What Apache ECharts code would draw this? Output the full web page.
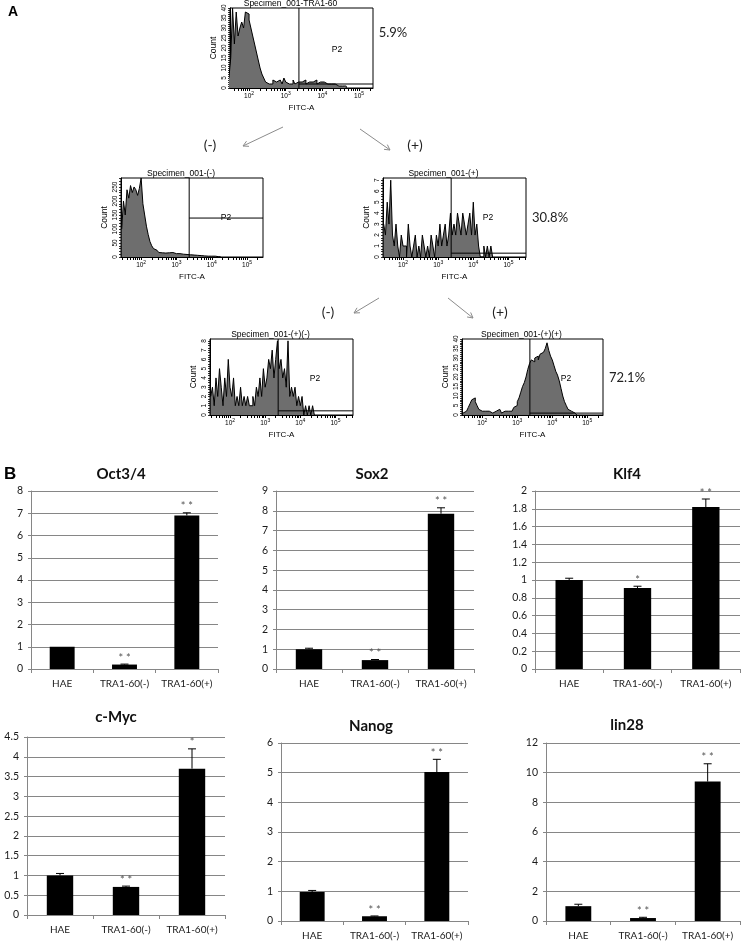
<!DOCTYPE html>
<html><head><meta charset="utf-8">
<script src="https://cdn.jsdelivr.net/npm/echarts@6/dist/echarts.min.js"></script>
<style>html,body{margin:0;padding:0;background:#fff}#c{width:741px;height:943px}</style>
</head><body><div id="c"></div>
<script>
// ================= DATA =================
// Flow histograms: counts per bin, bins start at log10(FITC-A)=binStart, width binStep
const binStart = 1.45;
const binStep = 0.05;
const histTRA160 = [5,15,40,22,38,26,30,33,30,38,37,34,30,26,22,18,14,10,7,5,3,2,3,2,4,3,2,4,3,2,5,3,2,3,2,4,2,3,2,3,2,4,2,3,2,3,2,4,2,3,2,3,2,2,1,2,1,2,1,1,1,1,0,1,0];
const histNeg = [100,200,150,240,210,255,230,250,240,220,245,282,190,150,110,80,55,40,30,24,19,16,15,17,14,18,15,13,16,14,12,15,12,13,10,11,9,10,8,8,7,7,6,6,5,5,4,4,3,4,3,2,3,2,1,1,0];
const histPos = [3,2,5,3,7,2,1,3,1,0,2,1,1,0,3,1,0,1,2,0,1,0,2,1,0,1,0,2,1,0,2,1,3,1,2,3,1,2,4,2,3,2,4,3,2,4,3,2,3,4,2,5,2,3,1,0,0,1,0,1,0,1,0];
const histPosNeg = [2,3,1,4,2,5,3,1,4,2,6,3,2,4,1,2,1,3,1,2,1,2,1,1,2,1,3,2,4,2,5,3,4,6,5,7,4,6,8,5,6,4,5,3,8,2,3,2,3,1,2,1,2,0,1,0,1,0,1,0];
const histPosPos = [1,2,3,4,6,8,9,7,5,3,2,3,2,1,2,3,1,2,2,1,3,2,1,2,3,2,3,2,3,4,5,7,9,12,15,17,20,24,27,29,28,30,31,29,32,33,34,35,38,34,31,29,26,23,21,18,14,10,7,5,3,2,2,1,1,0];
const histTitles = ['Specimen_001-TRA1-60','Specimen_001-(-)','Specimen_001-(+)','Specimen_001-(+)(-)','Specimen_001-(+)(+)'];
const histPercents = ['5.9%','','30.8%','','72.1%'];
const decadeLabels = [2,3,4,5];

// qPCR bar charts
const categories = ['HAE','TRA1-60(-)','TRA1-60(+)'];
const oct34 = [1.0, 0.2, 6.9];   const oct34Err = [0, 0.02, 0.12];  const oct34Sig = ['', '**', '**'];
const sox2 = [1.0, 0.45, 7.85];  const sox2Err = [0.05, 0.03, 0.3]; const sox2Sig = ['', '**', '**'];
const klf4 = [1.0, 0.91, 1.82];  const klf4Err = [0.02, 0.02, 0.09]; const klf4Sig = ['', '*', '**'];
const cmyc = [1.0, 0.71, 3.7];   const cmycErr = [0.05, 0.02, 0.5]; const cmycSig = ['', '**', '*'];
const nanog = [0.98, 0.16, 5.02]; const nanogErr = [0.05, 0.01, 0.43]; const nanogSig = ['', '**', '**'];
const lin28 = [1.0, 0.2, 9.4];   const lin28Err = [0.13, 0.05, 1.2]; const lin28Sig = ['', '**', '**'];
const geneNames = ['Oct3/4','Sox2','Klf4','c-Myc','Nanog','lin28'];

// ================= LAYOUT =================
const HF = '"Liberation Sans", Arial, sans-serif';
const BF = 'Lato, sans-serif';
const histLayout = [
  {data:histTRA160, left:230, top:8,   width:143, height:80, xMin:1.48, xMax:5.38, yMax:40,  yLab:5,   yTick:1,   gate:3.36, gateY:2,   p2:[337,50],  pct:[393,33]},
  {data:histNeg,    left:121, top:178, width:142, height:79, xMin:1.43, xMax:5.45, yMax:282, yLab:50,  yTick:10,  gate:3.36, gateY:139, p2:[226,218], pct:null},
  {data:histPos,    left:383, top:178, width:143, height:79, xMin:1.43, xMax:5.5,  yMax:7.2, yLab:1,   yTick:0.25,gate:3.37, gateY:0.35,p2:[488,218], pct:[550,218]},
  {data:histPosNeg, left:210, top:339, width:143, height:76, xMin:1.43, xMax:5.5,  yMax:8.2, yLab:1,   yTick:0.25,gate:3.37, gateY:0.45,p2:[315,379], pct:null},
  {data:histPosPos, left:462, top:339, width:141, height:76, xMin:1.42, xMax:5.45, yMax:40,  yLab:5,   yTick:1,   gate:3.36, gateY:1,   p2:[566,379], pct:[627,378]}
];
const barLayout = [
  {vals:oct34, err:oct34Err, sig:oct34Sig, left:31,  top:491, width:187, height:178, max:8,   interval:1,   title:[121,474]},
  {vals:sox2,  err:sox2Err,  sig:sox2Sig,  left:276, top:491, width:198, height:178, max:9,   interval:1,   title:[372,474]},
  {vals:klf4,  err:klf4Err,  sig:klf4Sig,  left:535, top:491, width:205, height:178, max:2,   interval:0.2, title:[627,474]},
  {vals:cmyc,  err:cmycErr,  sig:cmycSig,  left:27,  top:737, width:198, height:178, max:4.5, interval:0.5, title:[116,717]},
  {vals:nanog, err:nanogErr, sig:nanogSig, left:281, top:743, width:187, height:178, max:6,   interval:1,   title:[371,726]},
  {vals:lin28, err:lin28Err, sig:lin28Sig, left:546, top:743, width:194, height:178, max:12,  interval:2,   title:[627,725]}
];

function logTicks(min,max){const t=[];for(let d=1;d<=5;d++)for(let k=1;k<=9;k++){const v=Math.log10(k*Math.pow(10,d));if(v>=min&&v<=max)t.push(v);}return t;}
function steps(a,b,s){const r=[];for(let i=0;a+i*s<=b+1e-9;i++)r.push(+(a+i*s).toFixed(4));return r;}
function txt(x,y,text,font,color,align,valign){return {type:'text',x:x,y:y,silent:true,style:{text:text,font:font,fill:color||'#000',textAlign:align||'center',textVerticalAlign:valign||'middle',align:align||'center',verticalAlign:valign||'middle'}};}
function arrow(x1,y1,x2,y2){const ang=Math.atan2(y2-y1,x2-x1),L=6,a=0.5;
  return {type:'group',silent:true,children:[
    {type:'line',shape:{x1:x1,y1:y1,x2:x2,y2:y2},style:{stroke:'#8c8c8c',lineWidth:1}},
    {type:'polyline',shape:{points:[[x2-L*Math.cos(ang-a),y2-L*Math.sin(ang-a)],[x2,y2],[x2-L*Math.cos(ang+a),y2-L*Math.sin(ang+a)]]},style:{stroke:'#8c8c8c',fill:null,lineWidth:1}}]};}

const grids=[],xAxes=[],yAxes=[],series=[],graphics=[];

histLayout.forEach((h,idx)=>{
  grids.push({left:h.left,top:h.top,width:h.width,height:h.height,show:true,borderColor:'#000',borderWidth:1,backgroundColor:'transparent'});
  xAxes.push({gridIndex:idx,type:'value',min:h.xMin,max:h.xMax,splitLine:{show:false},
    axisLine:{show:true,onZero:false,lineStyle:{color:'#000',width:1}},
    axisTick:{show:true,customValues:logTicks(h.xMin,h.xMax),length:3,lineStyle:{color:'#000',width:1}},
    axisLabel:{customValues:decadeLabels,margin:3,formatter:v=>'{b|10}{s|'+Math.round(v)+'}',
      rich:{b:{fontSize:6.5,fontFamily:HF,color:'#000',verticalAlign:'bottom',lineHeight:9},s:{fontSize:5,fontFamily:HF,color:'#000',verticalAlign:'top',lineHeight:9}}},
    name:'FITC-A',nameLocation:'middle',nameGap:16,nameTextStyle:{fontSize:8,fontFamily:HF,color:'#000'}});
  yAxes.push({gridIndex:idx,type:'value',min:0,max:h.yMax,splitLine:{show:false},
    axisLine:{show:true,onZero:false,lineStyle:{color:'#000',width:1}},
    axisTick:{show:true,customValues:steps(0,h.yMax,h.yTick),length:2,lineStyle:{color:'#000',width:0.8}},
    axisLabel:{customValues:steps(0,h.yMax,h.yLab),rotate:90,fontSize:6.5,margin:2,fontFamily:HF,color:'#000'},
    name:'Count',nameLocation:'middle',nameGap:12,nameRotate:90,nameTextStyle:{fontSize:8.5,fontFamily:HF,color:'#000'}});
  series.push({type:'line',xAxisIndex:idx,yAxisIndex:idx,step:'end',symbol:'none',silent:true,
    data:h.data.map((c,i)=>[+(binStart+i*binStep).toFixed(3),c]),
    lineStyle:{color:'#000',width:1},areaStyle:{color:'#6e6e6e',opacity:1}});
  series.push({type:'line',xAxisIndex:idx,yAxisIndex:idx,symbol:'none',silent:true,data:[[h.gate,0],[h.gate,h.yMax]],lineStyle:{color:'#000',width:1}});
  series.push({type:'line',xAxisIndex:idx,yAxisIndex:idx,symbol:'none',silent:true,data:[[h.gate,h.gateY],[h.xMax,h.gateY]],lineStyle:{color:'#000',width:1}});
  graphics.push(txt(h.left+h.width/2-11,h.top-4,histTitles[idx],'8.5px '+HF,'#000'));
  graphics.push(txt(h.p2[0],h.p2[1],'P2','8.5px '+HF,'#000'));
  if(h.pct) graphics.push(txt(h.pct[0],h.pct[1],histPercents[idx],'13px '+BF,'#222'));
});

barLayout.forEach((b,k)=>{
  const gi=histLayout.length+k;
  grids.push({left:b.left,top:b.top,width:b.width,height:b.height});
  xAxes.push({gridIndex:gi,type:'category',data:categories,
    axisLine:{show:true,lineStyle:{color:'#868686',width:1}},
    axisTick:{show:true,length:4,lineStyle:{color:'#868686'}},
    axisLabel:{interval:0,hideOverlap:false,fontSize:10,fontFamily:BF,color:'#1a1a1a',margin:10}});
  yAxes.push({gridIndex:gi,type:'value',min:0,max:b.max,interval:b.interval,
    axisLine:{show:true,lineStyle:{color:'#868686',width:1}},
    axisTick:{show:true,length:3,lineStyle:{color:'#868686'}},
    splitLine:{show:true,lineStyle:{color:'#868686',width:1}},
    axisLabel:{fontSize:10.5,fontFamily:BF,color:'#1a1a1a',margin:8}});
  series.push({type:'bar',xAxisIndex:gi,yAxisIndex:gi,data:b.vals,barWidth:'40%',itemStyle:{color:'#000'},silent:true});
  const sig=b.sig;
  series.push({type:'custom',xAxisIndex:gi,yAxisIndex:gi,silent:true,z:5,
    data:b.vals.map((v,i)=>[i,v,b.err[i]]),encode:{x:0,y:1},
    renderItem:function(params,api){
      const x=api.value(0),v=api.value(1),e=api.value(2);
      const p0=api.coord([x,v]),p1=api.coord([x,v+e]);
      const ch=[];
      if(e>0){
        ch.push({type:'line',shape:{x1:p0[0],y1:p0[1],x2:p1[0],y2:p1[1]},style:{stroke:'#000',lineWidth:1}});
        ch.push({type:'line',shape:{x1:p1[0]-4,y1:p1[1],x2:p1[0]+4,y2:p1[1]},style:{stroke:'#000',lineWidth:1}});
      }
      const s=sig[params.dataIndex];
      if(s){ch.push({type:'text',x:p1[0],y:p1[1]-6,style:{text:s==='**'?'* *':'*',font:'11px '+BF,fill:'#555',textAlign:'center',textVerticalAlign:'middle',align:'center',verticalAlign:'middle'}});}
      return {type:'group',children:ch};
    }});
  graphics.push(txt(b.title[0],b.title[1],geneNames[k],'bold 15px '+BF,'#111'));
});

// panel letters, gate annotations and arrows
graphics.push(txt(8,12,'A','bold 14px Arial, "Liberation Sans"','#000','left'));
graphics.push(txt(4,474,'B','bold 17px Arial, "Liberation Sans"','#000','left'));
graphics.push(txt(210,145,'(-)','14px '+BF,'#222'));
graphics.push(txt(415,145,'(+)','14px '+BF,'#222'));
graphics.push(txt(328,312,'(-)','14px '+BF,'#222'));
graphics.push(txt(500,312,'(+)','14px '+BF,'#222'));
graphics.push(arrow(283,127,243,146));
graphics.push(arrow(360,129,390,150));
graphics.push(arrow(379,298,354,313));
graphics.push(arrow(448,298,473,318));

const chart=echarts.init(document.getElementById('c'),null,{renderer:'canvas',width:741,height:943});
chart.setOption({animation:false,backgroundColor:'#fff',grid:grids,xAxis:xAxes,yAxis:yAxes,series:series,graphic:{elements:graphics}});
</script></body></html>
